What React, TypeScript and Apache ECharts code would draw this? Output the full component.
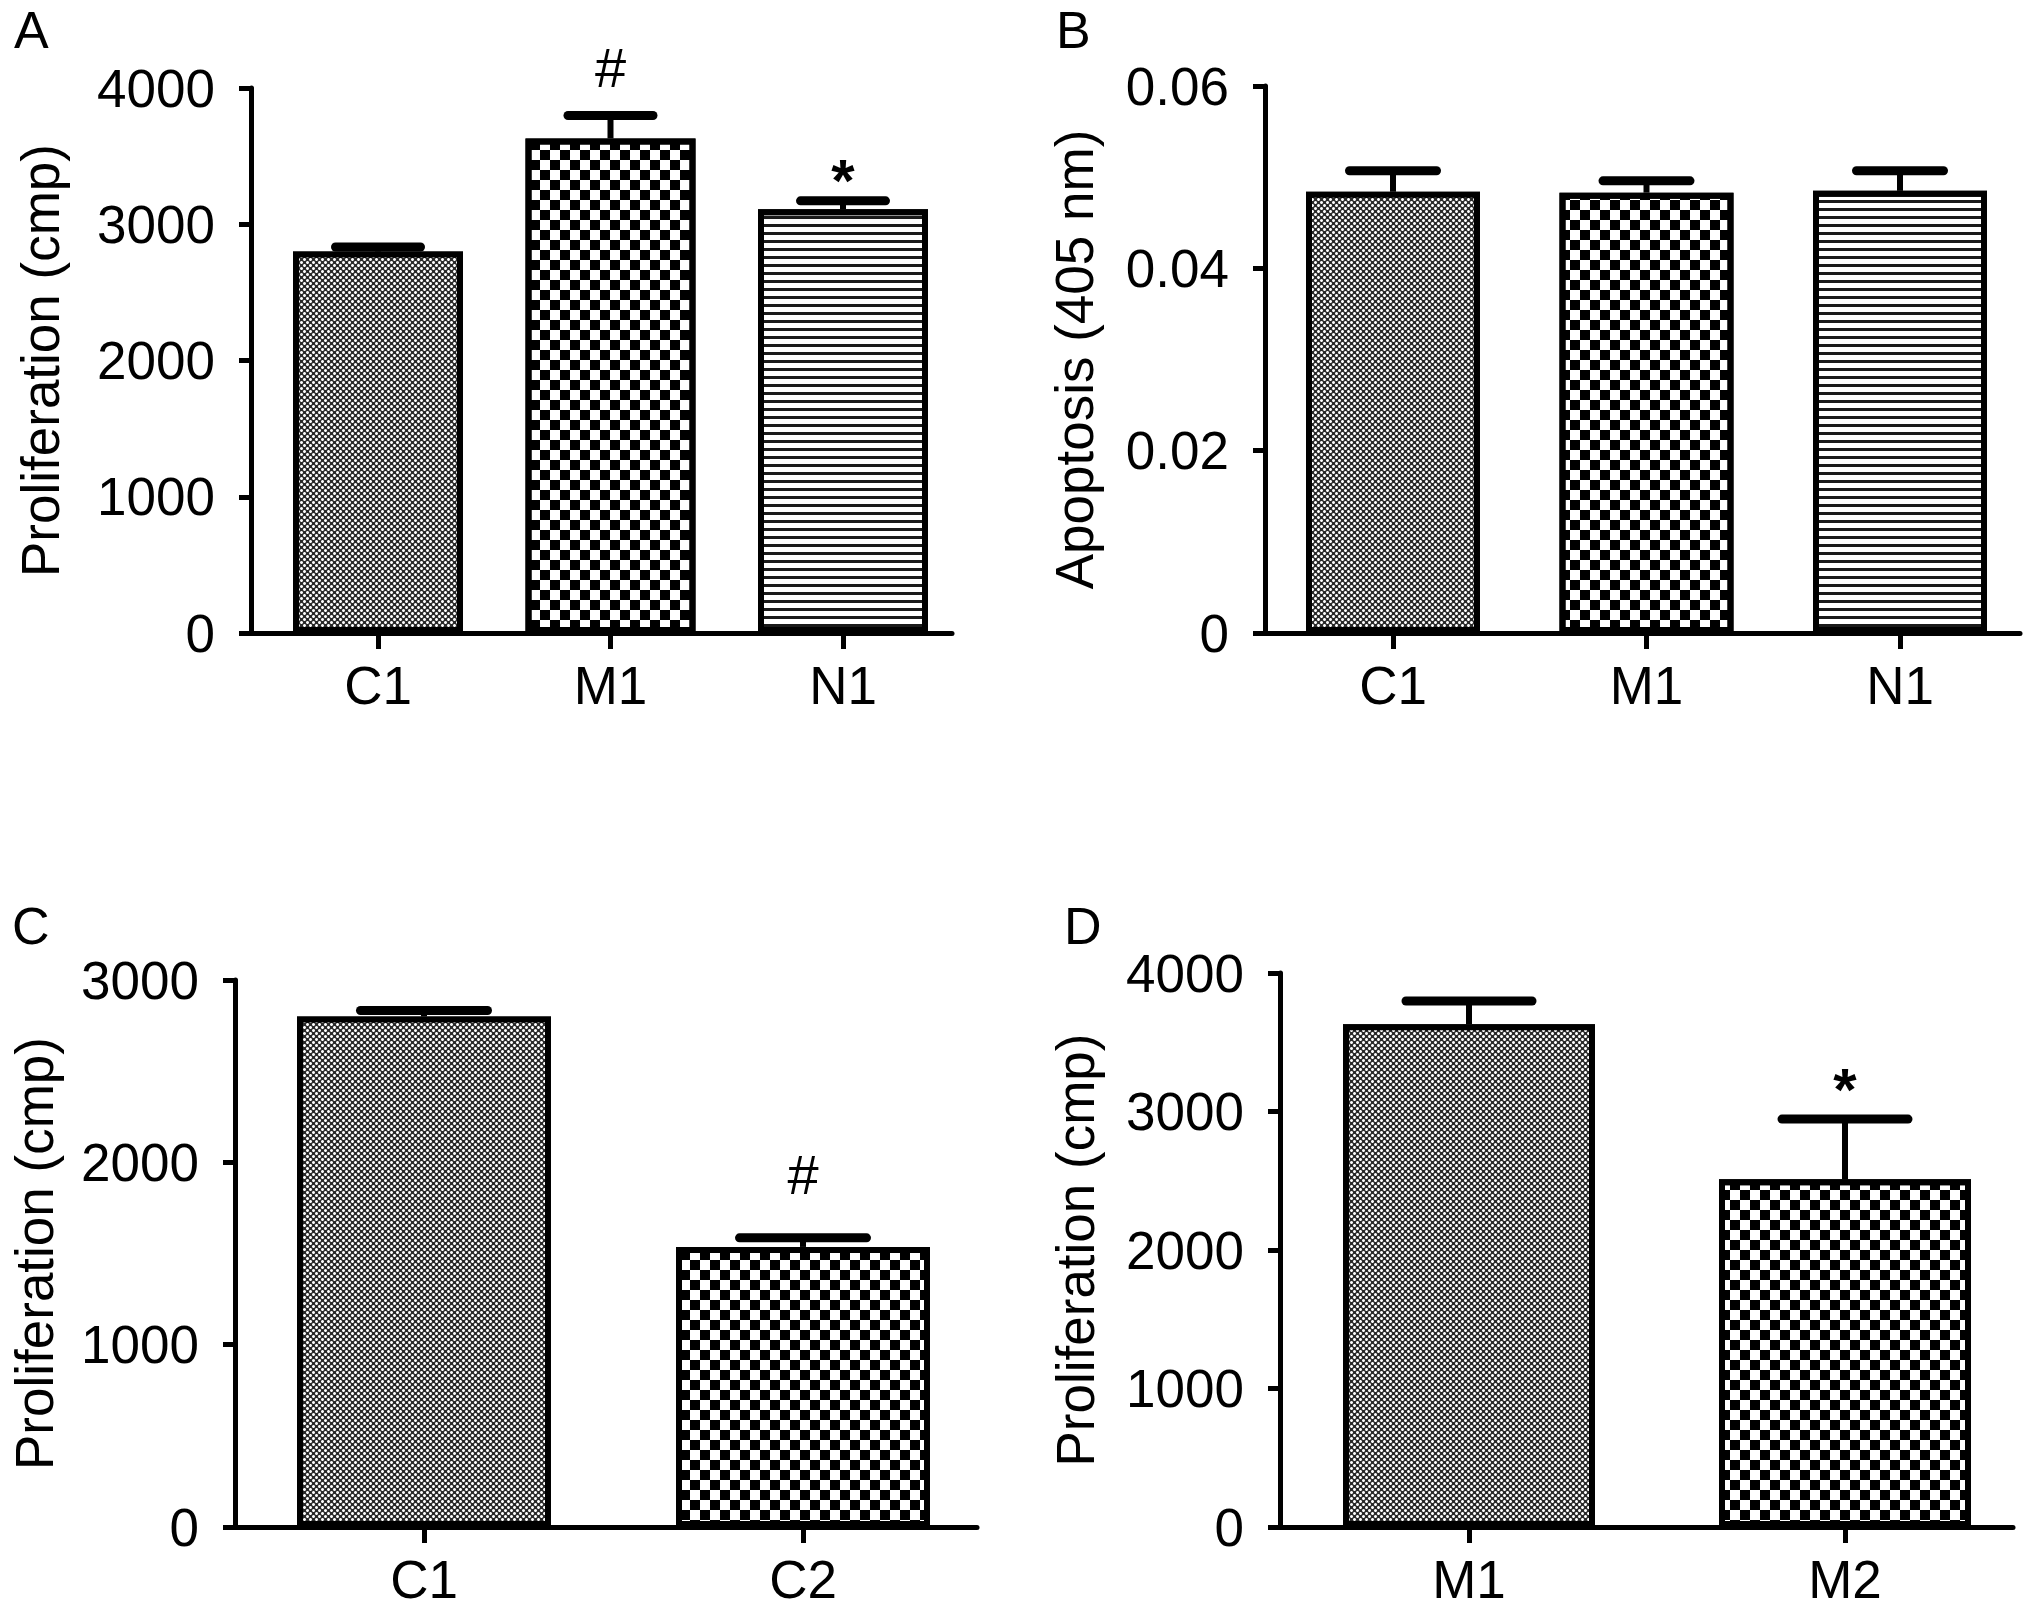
import React, { useEffect, useRef } from "react";
import * as echarts from "echarts";

// Panel A
const panelACategories = ["C1", "M1", "N1"];
const panelAMeans = [2800, 3630, 3110];
const panelAErrors = [33, 168, 62];
const panelAMarks = ["", "#", "*"];
const panelATicks = [0, 1000, 2000, 3000, 4000];

// Panel B
const panelBCategories = ["C1", "M1", "N1"];
const panelBMeans = [0.0484, 0.0483, 0.0485];
const panelBErrors = [0.0023, 0.0013, 0.0022];
const panelBMarks = ["", "", ""];
const panelBTicks = [0, 0.02, 0.04, 0.06];

// Panel C
const panelCCategories = ["C1", "C2"];
const panelCMeans = [2800, 1536];
const panelCErrors = [33, 50];
const panelCMarks = ["", "#"];
const panelCTicks = [0, 1000, 2000, 3000];

// Panel D
const panelDCategories = ["M1", "M2"];
const panelDMeans = [3630, 2510];
const panelDErrors = [168, 435];
const panelDMarks = ["", "*"];
const panelDTicks = [0, 1000, 2000, 3000, 4000];

const FONT = '"Liberation Sans", Arial, Helvetica, sans-serif';

// bar fills (grey dots, checkerboard, horizontal stripes)
const fillStyles: Record<string, any> = {
  dots: {
    color: "#2a2a2a",
    decal: {
      symbol: "circle",
      symbolSize: 1,
      color: "#ffffff",
      dashArrayX: [[3, 3], [0, 3, 3, 0]],
      dashArrayY: [3, 0],
    },
  },
  checker: {
    color: "#ffffff",
    decal: {
      symbol: "rect",
      symbolSize: 1,
      color: "#000000",
      dashArrayX: [[10, 10], [0, 10, 10, 0]],
      dashArrayY: [10, 0],
    },
  },
  stripes: {
    color: "#ffffff",
    decal: {
      symbol: "rect",
      symbolSize: 1,
      color: "#1a1a1a",
      dashArrayX: [10, 0],
      dashArrayY: [3, 5],
    },
  },
};

const panels = [
  {
    letter: "A",
    categories: panelACategories,
    means: panelAMeans,
    errors: panelAErrors,
    marks: panelAMarks,
    ticks: panelATicks,
    yName: "Proliferation (cmp)",
    fills: ["dots", "checker", "stripes"],
    layout: { left: 251, top: 88, right: 952, bottom: 633, firstCenter: 378, step: 232.5, barWidth: 170, nameGap: 184, letterX: 14, letterY: 4 },
    markGap: [0, 48, 20],
  },
  {
    letter: "B",
    categories: panelBCategories,
    means: panelBMeans,
    errors: panelBErrors,
    marks: panelBMarks,
    ticks: panelBTicks,
    yName: "Apoptosis (405 nm)",
    fills: ["dots", "checker", "stripes"],
    layout: { left: 1265, top: 86, right: 2020, bottom: 633, firstCenter: 1393, step: 253.5, barWidth: 174, nameGap: 164, letterX: 1056, letterY: 4 },
    markGap: [0, 0, 0],
  },
  {
    letter: "C",
    categories: panelCCategories,
    means: panelCMeans,
    errors: panelCErrors,
    marks: panelCMarks,
    ticks: panelCTicks,
    yName: "Proliferation (cmp)",
    fills: ["dots", "checker"],
    layout: { left: 235, top: 980, right: 977, bottom: 1527, firstCenter: 424, step: 379, barWidth: 254, nameGap: 174, letterX: 12, letterY: 900 },
    markGap: [0, 63],
  },
  {
    letter: "D",
    categories: panelDCategories,
    means: panelDMeans,
    errors: panelDErrors,
    marks: panelDMarks,
    ticks: panelDTicks,
    yName: "Proliferation (cmp)",
    fills: ["dots", "checker"],
    layout: { left: 1280, top: 973, right: 2013, bottom: 1527, firstCenter: 1469, step: 376, barWidth: 252, nameGap: 178, letterX: 1064, letterY: 900 },
    markGap: [0, 30],
  },
];

const App: React.FC = () => {
  const chartRef = useRef<HTMLDivElement>(null);

  useEffect(() => {
    document.body.style.margin = "0";
    const chartDom = chartRef.current;
    if (!chartDom) return;

    const myChart = echarts.init(chartDom, undefined, { renderer: "svg" });

    const grids: any[] = [];
    const xAxes: any[] = [];
    const yAxes: any[] = [];
    const series: any[] = [];
    const titles: any[] = [];

    panels.forEach((p, k) => {
      const l = p.layout;
      const xMin = -(l.firstCenter - l.left) / l.step;
      const xMax = (l.right - l.firstCenter) / l.step;
      const idx = p.categories.map((_, i) => i);

      titles.push({
        text: p.letter,
        left: l.letterX,
        top: l.letterY,
        padding: 0,
        textStyle: { fontSize: 52, fontWeight: "normal", color: "#000", fontFamily: FONT },
      });

      grids.push({
        left: l.left,
        top: l.top,
        width: l.right - l.left,
        height: l.bottom - l.top,
        containLabel: false,
        outerBoundsMode: "none",
      });

      xAxes.push({
        gridIndex: k,
        type: "value",
        min: xMin,
        max: xMax,
        axisLine: { show: true, onZero: false, lineStyle: { color: "#000", width: 5 } },
        axisTick: { show: true, customValues: idx, length: 16, lineStyle: { color: "#000", width: 5 } },
        axisLabel: {
          show: true,
          customValues: idx,
          formatter: (v: number) => p.categories[Math.round(v)] ?? "",
          fontSize: 53,
          color: "#000",
          fontFamily: FONT,
          margin: 26,
        },
        splitLine: { show: false },
      });

      yAxes.push({
        gridIndex: k,
        type: "value",
        min: p.ticks[0],
        max: p.ticks[p.ticks.length - 1],
        interval: p.ticks[1] - p.ticks[0],
        name: p.yName,
        nameLocation: "middle",
        nameGap: l.nameGap,
        nameTextStyle: { fontSize: 53, color: "#000", fontFamily: FONT },
        axisLine: { show: true, onZero: false, lineStyle: { color: "#000", width: 5 } },
        axisTick: { show: true, length: 12, lineStyle: { color: "#000", width: 5 } },
        axisLabel: {
          fontSize: 53,
          color: "#000",
          fontFamily: FONT,
          margin: 36,
          formatter: (v: number) => String(+v.toFixed(6)),
        },
        splitLine: { show: false },
      });

      series.push({
        type: "bar",
        xAxisIndex: k,
        yAxisIndex: k,
        barWidth: l.barWidth,
        data: p.means.map((m, i) => ({
          value: [i, m],
          itemStyle: {
            color: fillStyles[p.fills[i]].color,
            decal: fillStyles[p.fills[i]].decal,
            borderColor: "#000",
            borderWidth: 6,
          },
        })),
      });

      // error bars (upper only) and significance marks
      series.push({
        type: "custom",
        xAxisIndex: k,
        yAxisIndex: k,
        clip: false,
        z: 5,
        encode: { x: 0, y: 1 },
        data: p.means.map((m, i) => [i, m, m + p.errors[i]]),
        renderItem: (params: any, api: any) => {
          const i = api.value(0);
          const base = api.coord([i, api.value(1)]);
          const end = api.coord([i, api.value(2)]);
          const half = l.barWidth / 4;
          const children: any[] = [
            {
              type: "line",
              shape: { x1: base[0], y1: base[1], x2: end[0], y2: end[1] },
              style: { stroke: "#000", lineWidth: 6 },
            },
            {
              type: "line",
              shape: { x1: end[0] - half, y1: end[1], x2: end[0] + half, y2: end[1] },
              style: { stroke: "#000", lineWidth: 9, lineCap: "round" },
            },
          ];
          const mark = p.marks[params.dataIndex];
          if (mark) {
            children.push({
              type: "text",
              x: end[0],
              y: end[1] - p.markGap[params.dataIndex],
              style: {
                text: mark,
                fontSize: mark === "*" ? 60 : 56,
                fontWeight: mark === "*" ? "bold" : "normal",
                fontFamily: FONT,
                fill: "#000",
                align: "center",
                verticalAlign: "middle",
              },
            });
          }
          return { type: "group", children };
        },
      });
    });

    const option: any = {
      animation: false,
      backgroundColor: "#fff",
      title: titles,
      grid: grids,
      xAxis: xAxes,
      yAxis: yAxes,
      series,
    };

    myChart.setOption(option);

    return () => {
      myChart.dispose();
    };
  }, []);

  return <div ref={chartRef} style={{ width: "2031px", height: "1613px" }} />;
};

export default App;
